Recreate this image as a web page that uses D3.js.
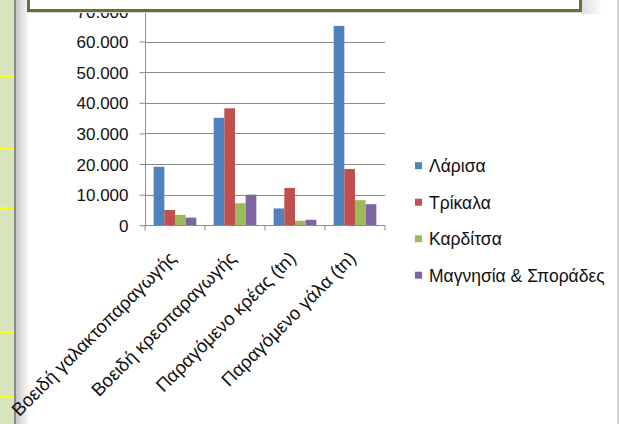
<!DOCTYPE html>
<html>
<head>
<meta charset="utf-8">
<style>
body { margin: 0; background: #fff; }
svg text { font-family: "Liberation Sans", Arial, sans-serif; fill: #111; }
</style>
</head>
<body>
<svg width="619" height="424"></svg>
<script src="https://cdn.jsdelivr.net/npm/d3@7"></script>
<script>
// data
let categories = ["Βοειδή γαλακτοπαραγωγής", "Βοειδή κρεοπαραγωγής", "Παραγόμενο κρέας (tn)", "Παραγόμενο γάλα (tn)"];
let seriesNames = ["Λάρισα", "Τρίκαλα", "Καρδίτσα", "Μαγνησία & Σποράδες"];
let larisa = [19100, 35100, 5500, 65100];
let trikala = [5000, 38200, 12200, 18400];
let karditsa = [3400, 7200, 1500, 8200];
let magnisia = [2500, 10000, 1800, 6900];
let yTicks = [0, 10000, 20000, 30000, 40000, 50000, 60000, 70000];
let colors = ["#4F81BD", "#C0504D", "#9BBB59", "#8064A2"];

let values = [larisa, trikala, karditsa, magnisia];

let svg = d3.select('svg');

// slide background bits
let defs = svg.append('defs');
let g1 = defs.append('linearGradient').attr('id', 'edge');
g1.append('stop').attr('offset', 0).attr('stop-color', '#c8c8c8');
g1.append('stop').attr('offset', 1).attr('stop-color', '#ffffff');
let g2 = defs.append('linearGradient').attr('id', 'shade');
g2.append('stop').attr('offset', 0).attr('stop-color', '#dedede');
g2.append('stop').attr('offset', 1).attr('stop-color', '#ffffff');

svg.append('rect').attr('x', 0).attr('y', 0).attr('width', 14).attr('height', 424).attr('fill', '#D8E4BE');
svg.append('rect').attr('x', 14).attr('y', 0).attr('width', 2).attr('height', 424).attr('fill', '#8a8a8a');
svg.append('rect').attr('x', 16).attr('y', 0).attr('width', 14).attr('height', 424).attr('fill', 'url(#edge)');
[76, 149, 208, 332, 397].forEach(function(y) {
  svg.append('rect').attr('x', 0).attr('y', y - 1).attr('width', 14).attr('height', 2).attr('fill', '#FFFF00');
});
svg.append('line').attr('x1', 618).attr('x2', 618).attr('y1', 0).attr('y2', 424)
  .attr('stroke', '#a8a8a8').attr('stroke-width', 1);

// scales
let y = d3.scaleLinear().domain([0, 70000]).range([225.3, 10.9]);
let x0 = d3.scaleBand().domain(categories).range([145, 385]);
let x1 = d3.scaleBand().domain(seriesNames).range([8.65, x0.bandwidth() - 8.65]);

let fmt = d3.formatLocale({decimal: ",", thousands: ".", grouping: [3], currency: ["", "€"]}).format(",");

// gridlines
svg.append('g').selectAll('line').data(yTicks.slice(1)).join('line')
  .attr('x1', 145).attr('x2', 385)
  .attr('y1', function(d) { return Math.round(y(d)) + 0.5; })
  .attr('y2', function(d) { return Math.round(y(d)) + 0.5; })
  .attr('stroke', '#8c8c8c').attr('stroke-width', 1);

// bars
let groups = svg.append('g').selectAll('g').data(categories).join('g')
  .attr('transform', function(d) { return 'translate(' + x0(d) + ',0)'; });
groups.selectAll('rect')
  .data(function(c, i) { return seriesNames.map(function(s, j) { return {s: s, v: values[j][i], j: j}; }); })
  .join('rect')
  .attr('x', function(d) { return x1(d.s); })
  .attr('width', x1.bandwidth())
  .attr('y', function(d) { return y(d.v); })
  .attr('height', function(d) { return y(0) - y(d.v); })
  .attr('fill', function(d) { return colors[d.j]; });

// y axis
let yAxis = d3.axisLeft(y).tickValues(yTicks).tickFormat(fmt).tickSize(6).tickPadding(11);
let ya = svg.append('g').attr('transform', 'translate(145.5,0)').call(yAxis);
ya.select('.domain').attr('stroke', '#8c8c8c').attr('d', 'M0,' + y(70000) + 'V' + y(0));
ya.selectAll('.tick line').attr('stroke', '#8c8c8c');
ya.selectAll('.tick text').attr('font-size', 17).attr('dy', '0.36em').style('fill', '#111');

// x axis
let xAxis = d3.axisBottom(x0).tickSize(0).tickFormat('');
let xa = svg.append('g').attr('transform', 'translate(0,' + (Math.round(y(0)) + 0.5) + ')').call(xAxis);
xa.select('.domain').attr('stroke', '#8c8c8c').attr('d', 'M145,0H385');
xa.selectAll('.sep').data(categories.concat(['end'])).join('line')
  .attr('x1', function(d, i) { return 145 + i * x0.step(); })
  .attr('x2', function(d, i) { return 145 + i * x0.step(); })
  .attr('y1', 0).attr('y2', 5).attr('stroke', '#8c8c8c');
xa.selectAll('.lbl').data(categories).join('text')
  .attr('text-anchor', 'end')
  .attr('font-size', 18.5)
  .attr('transform', function(d) { return 'translate(' + (x0(d) + x0.bandwidth() / 2 + 2) + ',34) rotate(-45)'; })
  .text(function(d) { return d; });

// legend
let lg = svg.append('g').selectAll('g').data(seriesNames).join('g')
  .attr('transform', function(d, i) { return 'translate(415,' + (165.7 + i * 36.5) + ')'; });
lg.append('rect').attr('x', 0).attr('y', -3.5).attr('width', 7).attr('height', 7)
  .attr('fill', function(d, i) { return colors[i]; });
lg.append('text').attr('x', 14).attr('dy', '0.36em').attr('font-size', 17.5).text(function(d) { return d; });

// title box overlapping the top of the chart
svg.append('rect').attr('x', 582).attr('y', 0).attr('width', 20).attr('height', 14).attr('fill', 'url(#shade)');
svg.append('rect').attr('x', 28.5).attr('y', -10).attr('width', 552).attr('height', 20.5)
  .attr('fill', '#fff').attr('stroke', '#5C7830').attr('stroke-width', 3);
svg.append('line').attr('x1', 27).attr('x2', 582).attr('y1', 12.5).attr('y2', 12.5)
  .attr('stroke', '#d8d8d8').attr('stroke-width', 1);
</script>
</body>
</html>
